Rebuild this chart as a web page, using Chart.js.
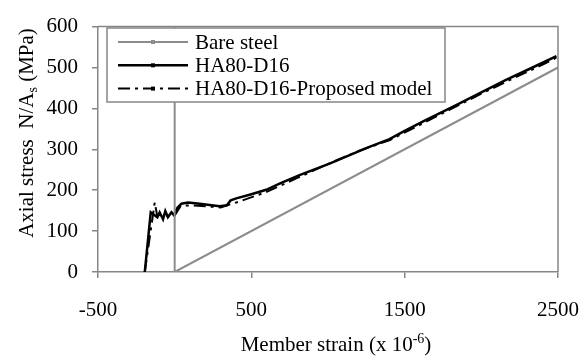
<!DOCTYPE html>
<html>
<head>
<meta charset="utf-8">
<script src="https://cdn.jsdelivr.net/npm/chart.js@4.4.0/dist/chart.umd.min.js"></script>
<style>
    body { margin: 0; background: #fff; }
    canvas { display: block; }
</style>
</head>
<body>
<canvas id="strainChart" width="587" height="356"></canvas>
<script>
// tick labels
const xTicks = [-500, 500, 1500, 2500];
const yTicks = [0, 100, 200, 300, 400, 500, 600];

// Bare steel
const bareX = [0, 0, 2500];
const bareY = [600, 0, 500];

// HA80-D16 (test)
const testX = [-195, -156, -141, -113, -98, -76, -61, -44, -21, -5, 18, 44, 87, 163, 293, 340, 365, 402, 489, 597, 684, 814, 1010, 1118, 1249, 1401, 1500, 1640, 1813, 1987, 2161, 2334, 2490];
const testY = [0, 146, 142, 134, 146, 129, 149, 134, 146, 139, 157, 167, 170, 167, 161, 163, 175, 180, 189, 201, 216, 237, 265, 282, 303, 325, 345, 372, 404, 437, 470, 500, 528];

// HA80-D16-Proposed model
const modelX = [-195, -130, -115, -60, 0, 40, 120, 300, 420, 600, 800, 1000, 1200, 1400, 1600, 1800, 2000, 2200, 2400, 2500];
const modelY = [0, 170, 140, 137, 138, 162, 163, 158, 172, 196, 230, 264, 296, 322, 360, 398, 436, 472, 507, 526];

const seriesNames = ["Bare steel", "HA80-D16", "HA80-D16-Proposed model"];

const FONT = "'Liberation Serif', 'Times New Roman', serif";
const AXIS_GREY = "#868686";

function toPoints(xs, ys) {
    return xs.map(function (x, i) {
        return { x: x, y: ys[i] };
    });
}

// plot frame, legend box and axis titles (with sub/superscripts)
const extrasPlugin = {
    id: "extras",
    afterDraw: function (chart) {
        const ctx = chart.ctx;
        const area = chart.chartArea;
        ctx.save();

        // top and right edges of the plot frame
        ctx.strokeStyle = AXIS_GREY;
        ctx.lineWidth = 1.5;
        ctx.beginPath();
        ctx.moveTo(area.left, area.top);
        ctx.lineTo(area.right, area.top);
        ctx.lineTo(area.right, area.bottom);
        ctx.stroke();

        // legend
        const lx = 107, ly = 28, lw = 338, lh = 74;
        ctx.fillStyle = "#fff";
        ctx.fillRect(lx, ly, lw, lh);
        ctx.strokeStyle = AXIS_GREY;
        ctx.lineWidth = 1.5;
        ctx.strokeRect(lx, ly, lw, lh);

        chart.data.datasets.forEach(function (ds, i) {
            const y = 42 + i * 23.3;
            ctx.strokeStyle = ds.borderColor;
            ctx.lineWidth = ds.borderWidth;
            ctx.setLineDash(ds.borderDash || []);
            ctx.beginPath();
            ctx.moveTo(118, y);
            ctx.lineTo(188, y);
            ctx.stroke();
            ctx.setLineDash([]);
            ctx.fillStyle = ds.borderColor;
            ctx.fillRect(151, y - 2, 4, 4);

            ctx.fillStyle = "#000";
            ctx.font = "21px " + FONT;
            ctx.textBaseline = "alphabetic";
            ctx.textAlign = "left";
            ctx.fillText(ds.label, 195, y + 6.5);
        });

        // x title: Member strain (x 10^-6)
        ctx.fillStyle = "#000";
        ctx.textBaseline = "alphabetic";
        ctx.textAlign = "left";
        const big = "21px " + FONT;
        const small = "14px " + FONT;
        const parts = [
            { t: "Member strain (x 10", f: big, dy: 0 },
            { t: "-6", f: small, dy: -8 },
            { t: ")", f: big, dy: 0 }
        ];
        let total = 0;
        parts.forEach(function (p) {
            ctx.font = p.f;
            total += ctx.measureText(p.t).width;
        });
        let x = 336 - total / 2;
        parts.forEach(function (p) {
            ctx.font = p.f;
            ctx.fillText(p.t, x, 351 + p.dy);
            x += ctx.measureText(p.t).width;
        });

        // y title: Axial stress  N/A_s (MPa)
        const yparts = [
            { t: "Axial stress  N/A", f: big, dy: 0 },
            { t: "s", f: small, dy: 4 },
            { t: " (MPa)", f: big, dy: 0 }
        ];
        total = 0;
        yparts.forEach(function (p) {
            ctx.font = p.f;
            total += ctx.measureText(p.t).width;
        });
        ctx.translate(33, 133);
        ctx.rotate(-Math.PI / 2);
        x = -total / 2;
        yparts.forEach(function (p) {
            ctx.font = p.f;
            ctx.fillText(p.t, x, p.dy);
            x += ctx.measureText(p.t).width;
        });

        ctx.restore();
    }
};

new Chart(document.getElementById("strainChart"), {

    type: "scatter",

    data: {
        datasets: [
            {
                label: seriesNames[0],
                data: toPoints(bareX, bareY),
                showLine: true,
                borderColor: "#8c8c8c",
                borderWidth: 2,
                pointRadius: 0,
                tension: 0
            },
            {
                label: seriesNames[1],
                data: toPoints(testX, testY),
                showLine: true,
                borderColor: "#000000",
                borderWidth: 2.5,
                pointRadius: 0,
                tension: 0
            },
            {
                label: seriesNames[2],
                data: toPoints(modelX, modelY),
                showLine: true,
                borderColor: "#000000",
                borderWidth: 2,
                borderDash: [12, 5, 3, 5],
                pointRadius: 0,
                tension: 0
            }
        ]
    },

    options: {
        responsive: false,
        animation: false,
        devicePixelRatio: 1,
        layout: {
            padding: { top: 23, right: 29, left: 0, bottom: 0 }
        },
        plugins: {
            legend: { display: false },
            tooltip: { enabled: false }
        },
        scales: {
            x: {
                type: "linear",
                min: -500,
                max: 2500,
                afterBuildTicks: function (scale) {
                    scale.ticks = xTicks.map(function (v) { return { value: v }; });
                },
                afterFit: function (scale) {
                    scale.height = 84;
                    scale.paddingLeft = 0;
                    scale.paddingRight = 0;
                },
                grid: {
                    drawOnChartArea: false,
                    drawTicks: true,
                    tickLength: 6,
                    color: AXIS_GREY,
                    lineWidth: 1.5
                },
                border: { color: AXIS_GREY, width: 1.5 },
                ticks: {
                    color: "#000",
                    padding: 20,
                    maxRotation: 0,
                    font: { family: FONT, size: 21 },
                    callback: function (v) { return String(v); }
                }
            },
            y: {
                type: "linear",
                min: 0,
                max: 600,
                afterBuildTicks: function (scale) {
                    scale.ticks = yTicks.map(function (v) { return { value: v }; });
                },
                afterFit: function (scale) {
                    scale.width = 98;
                },
                grid: {
                    drawOnChartArea: false,
                    drawTicks: true,
                    tickLength: 6,
                    color: AXIS_GREY,
                    lineWidth: 1.5
                },
                border: { color: AXIS_GREY, width: 1.5 },
                ticks: {
                    color: "#000",
                    padding: 14,
                    font: { family: FONT, size: 21 },
                    callback: function (v) { return String(v); }
                }
            }
        }
    },

    plugins: [extrasPlugin]
});
</script>
</body>
</html>
